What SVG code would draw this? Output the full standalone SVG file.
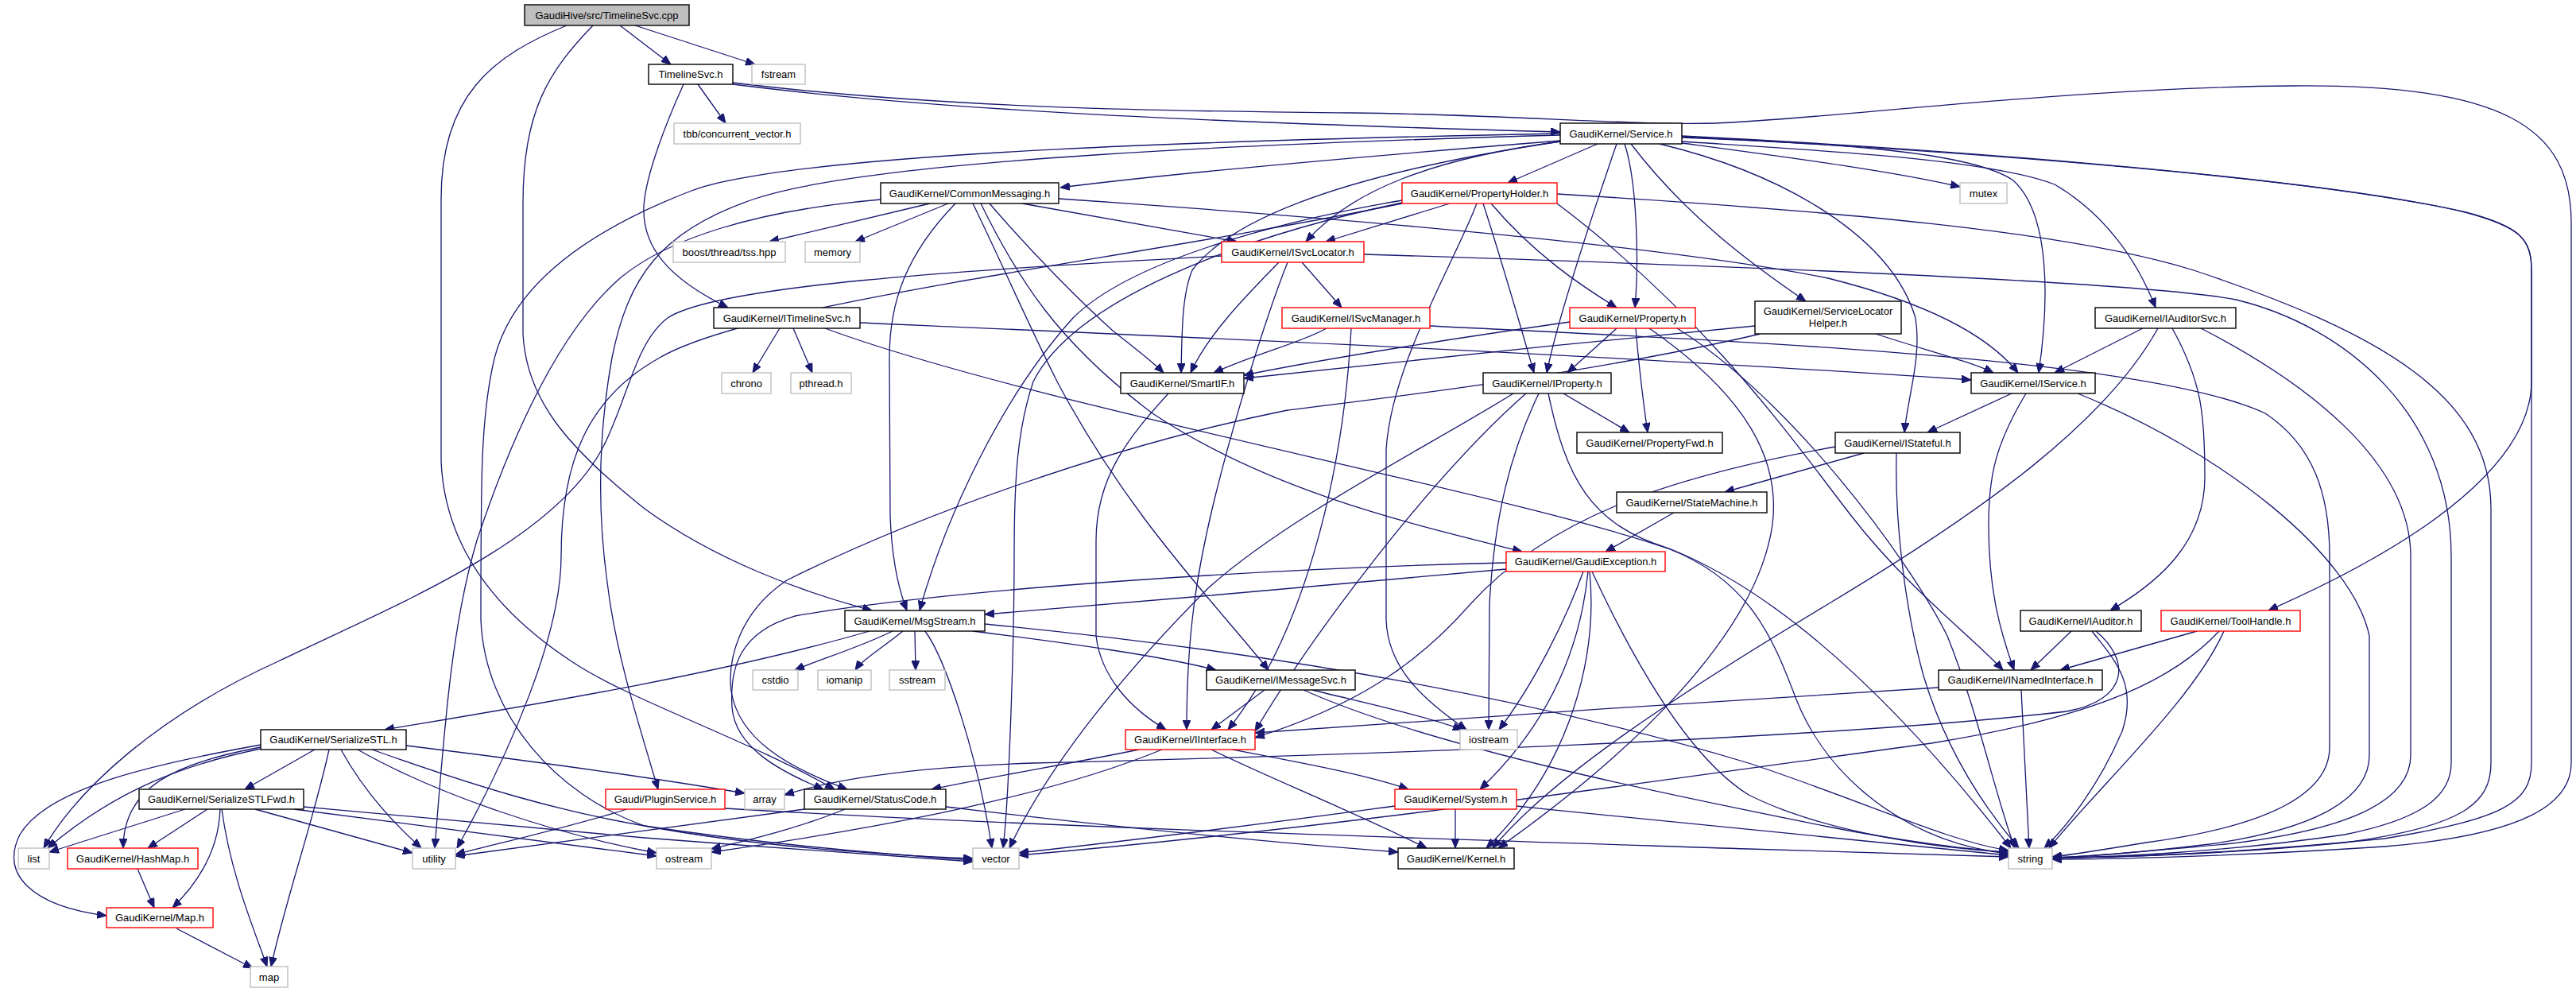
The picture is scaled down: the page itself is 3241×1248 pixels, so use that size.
<svg xmlns="http://www.w3.org/2000/svg" width="3241" height="1248" viewBox="0 0 3241 1248">
<style>
.nd rect{fill:#fff;stroke-width:1.4}
.ext rect{stroke:#bfbfbf}
.blk rect{stroke:#000}
.red rect{stroke:#ff0000}
.root rect{fill:#bfbfbf;stroke:#000}
.nd text{font-family:"Liberation Sans",Arial,sans-serif;font-size:13px;fill:#000;text-anchor:middle}
#edges path{fill:none;stroke:#191970;stroke-width:1.3;marker-end:url(#ah)}
</style>
<defs>
<marker id="ah" markerWidth="12" markerHeight="10" refX="12" refY="5" orient="auto" markerUnits="userSpaceOnUse">
<path d="M0,0 L12,5 L0,10 z" fill="#191970" stroke="#191970" stroke-width="1"/>
</marker>
</defs>
<rect width="3241" height="1248" fill="#fff"/>
<g id="edges">
<path d="M780,32 L844,81"/>
<path d="M799,32 L950,81"/>
<path d="M746,32 C690,90 658,140 658,255 L658,420 C662,500 710,560 811,640 C900,705 1010,745 1097,768"/>
<path d="M713,32 C620,70 555,120 555,250 L555,580 C560,700 640,780 719,832 C790,880 940,930 1050,993"/>
<path d="M922,106 C1150,135 1450,152 1963,166"/>
<path d="M878,106 L913,155"/>
<path d="M860,106 C840,150 812,220 810,260 C808,310 840,350 916,387"/>
<path d="M922,104 C1200,138 1500,140 1700,142 C1900,144 2050,158 2158,155 C2300,150 2600,110 2885,108 C3150,106 3235,160 3235,280 L3235,960 C3235,1010 3180,1050 3000,1065 C2800,1078 2650,1081 2582,1081"/>
<path d="M981,413 L947,469"/>
<path d="M998,413 L1022,469"/>
<path d="M1082,406 C1400,420 2000,445 2480,478"/>
<path d="M1038,413 C1300,510 1900,620 2101,691 C2200,730 2230,800 2260,880 C2300,980 2400,1060 2527,1074"/>
<path d="M1963,177 C1800,190 1500,215 1334,236"/>
<path d="M2010,181 L1897,230"/>
<path d="M2116,180 C2250,198 2380,215 2466,235"/>
<path d="M1963,178 C1800,200 1700,240 1643,304"/>
<path d="M2044,181 C2060,230 2062,330 2057,387"/>
<path d="M2034,181 C2000,280 1960,400 1946,469"/>
<path d="M2052,181 C2120,270 2200,330 2272,379"/>
<path d="M2116,178 C2300,190 2500,200 2585,232 C2650,270 2690,330 2712,387"/>
<path d="M2116,173 C2300,180 2480,190 2533,227 C2580,270 2578,380 2565,469"/>
<path d="M2088,181 C2250,220 2380,300 2410,400 C2418,450 2400,500 2396,544"/>
<path d="M1963,178 C1750,210 1560,260 1500,340 C1487,370 1487,420 1486,469"/>
<path d="M2116,171 C2400,185 2900,220 3102,267 C3170,285 3185,300 3185,340 L3185,480 C3185,560 3100,660 2854,768"/>
<path d="M1963,170 C1600,180 1100,200 950,250 C830,290 790,350 770,450 C752,550 752,650 765,740 C775,820 800,900 828,993"/>
<path d="M2116,172 C2400,186 2900,220 3102,267 C3170,285 3185,300 3185,340 L3185,960 C3185,1010 3150,1030 3000,1055 C2800,1075 2650,1079 2582,1079"/>
<path d="M1963,168 C1600,175 1000,190 870,240 C740,290 640,360 620,460 C605,530 605,600 605,780 C610,900 700,1000 811,1039 C950,1065 1100,1075 1224,1080"/>
<path d="M1170,256 L968,304"/>
<path d="M1193,256 L1076,304"/>
<path d="M1202,256 C1140,320 1119,380 1119,450 L1120,650 C1122,700 1130,740 1141,768"/>
<path d="M1224,256 C1260,330 1290,400 1330,480 C1420,650 1530,760 1596,843"/>
<path d="M1234,256 C1280,350 1330,430 1450,520 C1600,620 1780,660 1915,694"/>
<path d="M1245,256 C1300,320 1360,380 1400,416 C1430,440 1450,455 1464,469"/>
<path d="M1286,256 L1556,304"/>
<path d="M1332,250 C1700,275 2100,310 2300,350 C2420,380 2500,420 2539,469"/>
<path d="M1108,251 C950,265 840,300 780,350 C700,420 640,560 600,680 C570,780 560,900 547,1067"/>
<path d="M1824,256 L1668,304"/>
<path d="M1876,256 C1930,320 1990,360 2034,387"/>
<path d="M1866,256 C1890,330 1910,400 1930,469"/>
<path d="M1858,256 C1830,330 1750,460 1744,566 L1744,780 C1746,840 1790,880 1845,918"/>
<path d="M1959,244 C2300,265 2600,290 2760,340 C3000,420 3134,500 3134,640 L3134,960 C3134,1010 3100,1040 2950,1060 C2800,1075 2650,1079 2582,1079"/>
<path d="M1764,252 C1600,280 1420,330 1350,400 C1260,500 1190,650 1157,768"/>
<path d="M1764,255 C1550,300 1350,380 1300,480 C1280,540 1276,600 1276,700 C1276,800 1270,1000 1262,1067"/>
<path d="M1764,256 C1400,330 950,380 830,450 C740,500 706,580 706,700 C706,800 640,950 575,1067"/>
<path d="M1959,256 C2150,400 2260,560 2330,650 C2400,740 2480,800 2520,843"/>
<path d="M1638,330 L1688,387"/>
<path d="M1609,330 C1570,370 1520,420 1498,469"/>
<path d="M1620,330 C1600,380 1560,500 1530,620 C1505,720 1493,800 1493,918"/>
<path d="M1537,322 C1200,340 900,360 840,400 C800,430 790,500 760,560 C700,680 500,760 350,832 C200,900 100,990 55,1067"/>
<path d="M1716,320 C2200,335 2700,355 2813,377 C2950,410 3084,520 3084,700 L3084,960 C3084,1000 3050,1030 2950,1050 C2800,1072 2650,1079 2582,1079"/>
<path d="M1669,413 C1640,430 1580,445 1527,469"/>
<path d="M1700,413 C1690,600 1640,800 1545,918"/>
<path d="M1798,410 C2200,430 2700,450 2850,520 C2910,560 2931,620 2931,700 L2931,940 C2931,1000 2850,1040 2700,1060 C2640,1070 2600,1076 2582,1078"/>
<path d="M2360,420 C2420,440 2480,455 2508,469"/>
<path d="M2208,410 C2000,430 1750,455 1565,476"/>
<path d="M2215,420 C2000,470 1750,500 1620,516 C1400,560 1150,650 990,730 C930,770 915,830 920,870 C930,930 990,965 1066,993"/>
<path d="M2034,413 L1972,469"/>
<path d="M2058,413 C2062,460 2068,510 2073,544"/>
<path d="M2075,413 C2200,500 2240,580 2230,660 C2210,800 2050,950 1885,1067"/>
<path d="M2110,413 C2250,500 2400,700 2450,800 C2490,900 2510,1000 2535,1067"/>
<path d="M1975,405 C1800,430 1650,455 1565,472"/>
<path d="M2696,413 L2585,469"/>
<path d="M2715,413 C2650,530 2500,640 2300,760 C2100,880 1950,980 1878,1067"/>
<path d="M2733,413 C2770,480 2774,520 2774,600 C2774,680 2720,730 2655,768"/>
<path d="M2769,413 C2900,480 3033,580 3033,700 L3033,950 C3033,1010 2950,1045 2800,1062 C2680,1073 2620,1078 2582,1079"/>
<path d="M2531,495 L2425,544"/>
<path d="M2549,495 C2510,560 2502,600 2502,660 C2502,740 2515,790 2534,843"/>
<path d="M2614,495 C2800,570 2960,700 2981,800 L2981,950 C2981,1010 2900,1045 2780,1062 C2680,1074 2620,1078 2582,1079"/>
<path d="M2345,570 L2170,619"/>
<path d="M2386,570 C2384,650 2395,760 2420,850 C2450,950 2500,1020 2540,1067"/>
<path d="M2309,562 C2100,600 1950,650 1850,760 C1780,840 1700,890 1579,928"/>
<path d="M2106,645 L2020,694"/>
<path d="M1895,716 C1700,735 1450,755 1239,773"/>
<path d="M1895,708 C1600,715 1200,740 1000,775 C930,795 918,840 921,890 C925,940 980,970 1036,993"/>
<path d="M1992,719 C1970,780 1930,860 1886,918"/>
<path d="M1998,719 C1990,800 1960,900 1862,993"/>
<path d="M2000,719 C2010,820 1980,960 1870,1067"/>
<path d="M2003,719 C2050,820 2120,950 2200,1000 C2300,1050 2450,1068 2527,1072"/>
<path d="M1094,794 C900,850 650,890 484,918"/>
<path d="M1123,794 C1080,815 1030,830 1000,843"/>
<path d="M1136,794 C1110,815 1085,830 1076,843"/>
<path d="M1151,794 L1152,843"/>
<path d="M1164,794 C1190,830 1230,950 1248,1067"/>
<path d="M1224,794 C1350,810 1460,825 1530,843"/>
<path d="M1239,785 C1700,830 2000,900 2200,960 C2350,1010 2450,1058 2527,1070"/>
<path d="M1591,868 L1524,918"/>
<path d="M1651,868 C1720,885 1790,900 1840,918"/>
<path d="M1640,868 C1800,940 2100,1000 2300,1040 C2400,1060 2480,1068 2527,1073"/>
<path d="M2439,865 C2200,880 1800,905 1579,922"/>
<path d="M2543,868 L2553,1067"/>
<path d="M2606,794 L2555,843"/>
<path d="M2632,794 C2660,830 2690,860 2670,920 C2640,990 2600,1040 2572,1067"/>
<path d="M2637,794 C2680,830 2680,880 2600,895 C2300,930 1700,950 1300,960 C1150,965 1050,980 987,1000"/>
<path d="M2764,794 L2592,843"/>
<path d="M2798,794 C2760,880 2640,990 2578,1067"/>
<path d="M2792,794 C2740,850 2650,900 2430,935 C2100,980 1700,1040 1282,1076"/>
<path d="M1831,1018 L1831,1067"/>
<path d="M1908,1014 C2150,1040 2400,1065 2527,1076"/>
<path d="M1755,1014 C1600,1035 1400,1060 1282,1073"/>
<path d="M1433,943 C1350,960 1260,975 1172,993"/>
<path d="M1462,943 C1300,1010 1050,1050 895,1072"/>
<path d="M1524,943 C1600,980 1700,1020 1795,1067"/>
<path d="M1550,943 C1640,960 1720,975 1772,993"/>
<path d="M1063,1018 C1010,1040 950,1055 895,1068"/>
<path d="M1012,1018 C850,1040 700,1060 573,1077"/>
<path d="M1190,1015 C1400,1040 1600,1060 1759,1072"/>
<path d="M789,1018 C700,1045 630,1060 573,1075"/>
<path d="M912,1017 C1300,1040 1800,1055 2200,1068 C2350,1073 2450,1076 2527,1078"/>
<path d="M396,943 L308,993"/>
<path d="M414,943 C395,1030 360,1130 341,1216"/>
<path d="M429,943 C460,1000 500,1040 530,1067"/>
<path d="M511,938 C650,955 800,975 937,998"/>
<path d="M468,943 C600,990 700,1020 811,1039 C950,1060 1100,1074 1224,1082"/>
<path d="M450,943 C550,1000 700,1050 826,1073"/>
<path d="M328,942 C240,960 150,990 60,1067"/>
<path d="M328,940 C220,960 155,990 155,1067"/>
<path d="M328,937 C200,960 60,990 25,1050 C0,1100 40,1140 134,1152"/>
<path d="M233,1018 L62,1072"/>
<path d="M261,1018 L186,1067"/>
<path d="M277,1018 C275,1070 250,1110 217,1142"/>
<path d="M279,1018 C290,1100 320,1170 336,1216"/>
<path d="M321,1018 C400,1040 470,1060 519,1073"/>
<path d="M382,1015 C550,1030 700,1045 811,1054 C950,1065 1100,1075 1224,1084"/>
<path d="M370,1018 C550,1040 700,1060 826,1077"/>
<path d="M173,1093 L194,1142"/>
<path d="M222,1168 L318,1218"/>
<path d="M1470,495 C1420,550 1379,600 1379,680 L1379,800 C1385,850 1420,890 1467,918"/>
<path d="M1948,495 C1970,600 2000,660 2100,690 C2250,750 2400,900 2530,1067"/>
<path d="M1904,495 C1800,560 1620,650 1520,740 C1420,840 1320,960 1270,1067"/>
<path d="M1936,495 C1900,570 1880,650 1874,760 L1873,918"/>
<path d="M1967,495 L2050,544"/>
<path d="M1920,495 C1800,600 1650,800 1579,920"/>
</g>
<g id="n_cpp" class="nd root"><rect x="660" y="6" width="207" height="26"/><text x="763.5" y="23.5">GaudiHive/src/TimelineSvc.cpp</text></g>
<g id="n_tsh" class="nd blk"><rect x="816" y="81" width="106" height="25"/><text x="869" y="98">TimelineSvc.h</text></g>
<g id="n_fstream" class="nd ext"><rect x="946" y="81" width="67" height="25"/><text x="979.5" y="98">fstream</text></g>
<g id="n_tbb" class="nd ext"><rect x="848" y="155" width="159" height="26"/><text x="927.5" y="172.5">tbb/concurrent_vector.h</text></g>
<g id="n_service" class="nd blk"><rect x="1963" y="155" width="153" height="26"/><text x="2039.5" y="172.5">GaudiKernel/Service.h</text></g>
<g id="n_cm" class="nd blk"><rect x="1108" y="230" width="224" height="26"/><text x="1220" y="247.5">GaudiKernel/CommonMessaging.h</text></g>
<g id="n_ph" class="nd red"><rect x="1764" y="230" width="195" height="26"/><text x="1861.5" y="247.5">GaudiKernel/PropertyHolder.h</text></g>
<g id="n_mutex" class="nd ext"><rect x="2466" y="230" width="59" height="26"/><text x="2495.5" y="247.5">mutex</text></g>
<g id="n_boost" class="nd ext"><rect x="847" y="304" width="141" height="26"/><text x="917.5" y="321.5">boost/thread/tss.hpp</text></g>
<g id="n_memory" class="nd ext"><rect x="1013" y="304" width="69" height="26"/><text x="1047.5" y="321.5">memory</text></g>
<g id="n_isvclocator" class="nd red"><rect x="1537" y="304" width="179" height="26"/><text x="1626.5" y="321.5">GaudiKernel/ISvcLocator.h</text></g>
<g id="n_isvcmanager" class="nd red"><rect x="1613" y="387" width="186" height="26"/><text x="1706" y="404.5">GaudiKernel/ISvcManager.h</text></g>
<g id="n_property" class="nd red"><rect x="1975" y="387" width="158" height="26"/><text x="2054" y="404.5">GaudiKernel/Property.h</text></g>
<g id="n_slh" class="nd blk"><rect x="2208" y="379" width="184" height="41"/><text x="2300" y="396">GaudiKernel/ServiceLocator</text><text x="2300" y="411">Helper.h</text></g>
<g id="n_iauditorsvc" class="nd blk"><rect x="2636" y="387" width="177" height="26"/><text x="2724.5" y="404.5">GaudiKernel/IAuditorSvc.h</text></g>
<g id="n_itimelinesvc" class="nd blk"><rect x="898" y="387" width="184" height="26"/><text x="990" y="404.5">GaudiKernel/ITimelineSvc.h</text></g>
<g id="n_chrono" class="nd ext"><rect x="908" y="469" width="62" height="26"/><text x="939" y="486.5">chrono</text></g>
<g id="n_pthread" class="nd ext"><rect x="995" y="469" width="76" height="26"/><text x="1033" y="486.5">pthread.h</text></g>
<g id="n_smartif" class="nd blk"><rect x="1410" y="469" width="155" height="26"/><text x="1487.5" y="486.5">GaudiKernel/SmartIF.h</text></g>
<g id="n_iproperty" class="nd blk"><rect x="1866" y="469" width="161" height="26"/><text x="1946.5" y="486.5">GaudiKernel/IProperty.h</text></g>
<g id="n_iservice" class="nd blk"><rect x="2480" y="469" width="156" height="26"/><text x="2558" y="486.5">GaudiKernel/IService.h</text></g>
<g id="n_propertyfwd" class="nd blk"><rect x="1984" y="544" width="183" height="26"/><text x="2075.5" y="561.5">GaudiKernel/PropertyFwd.h</text></g>
<g id="n_istateful" class="nd blk"><rect x="2309" y="544" width="157" height="26"/><text x="2387.5" y="561.5">GaudiKernel/IStateful.h</text></g>
<g id="n_statemachine" class="nd blk"><rect x="2034" y="619" width="189" height="26"/><text x="2128.5" y="636.5">GaudiKernel/StateMachine.h</text></g>
<g id="n_gaudiexception" class="nd red"><rect x="1895" y="694" width="200" height="25"/><text x="1995" y="711">GaudiKernel/GaudiException.h</text></g>
<g id="n_msgstream" class="nd blk"><rect x="1063" y="768" width="176" height="26"/><text x="1151" y="785.5">GaudiKernel/MsgStream.h</text></g>
<g id="n_iauditor" class="nd blk"><rect x="2542" y="768" width="152" height="26"/><text x="2618" y="785.5">GaudiKernel/IAuditor.h</text></g>
<g id="n_toolhandle" class="nd red"><rect x="2719" y="768" width="175" height="26"/><text x="2806.5" y="785.5">GaudiKernel/ToolHandle.h</text></g>
<g id="n_inamedinterface" class="nd blk"><rect x="2439" y="843" width="206" height="25"/><text x="2542" y="860">GaudiKernel/INamedInterface.h</text></g>
<g id="n_cstdio" class="nd ext"><rect x="947" y="843" width="57" height="25"/><text x="975.5" y="860">cstdio</text></g>
<g id="n_iomanip" class="nd ext"><rect x="1029" y="843" width="67" height="25"/><text x="1062.5" y="860">iomanip</text></g>
<g id="n_sstream" class="nd ext"><rect x="1119" y="843" width="70" height="25"/><text x="1154" y="860">sstream</text></g>
<g id="n_imessagesvc" class="nd blk"><rect x="1518" y="843" width="187" height="25"/><text x="1611.5" y="860">GaudiKernel/IMessageSvc.h</text></g>
<g id="n_serializestl" class="nd blk"><rect x="328" y="918" width="183" height="25"/><text x="419.5" y="935">GaudiKernel/SerializeSTL.h</text></g>
<g id="n_iinterface" class="nd red"><rect x="1416" y="918" width="163" height="25"/><text x="1497.5" y="935">GaudiKernel/IInterface.h</text></g>
<g id="n_iostream" class="nd ext"><rect x="1837" y="918" width="72" height="25"/><text x="1873" y="935">iostream</text></g>
<g id="n_serializestlfwd" class="nd blk"><rect x="175" y="993" width="207" height="25"/><text x="278.5" y="1010">GaudiKernel/SerializeSTLFwd.h</text></g>
<g id="n_pluginservice" class="nd red"><rect x="762" y="993" width="150" height="25"/><text x="837" y="1010">Gaudi/PluginService.h</text></g>
<g id="n_array" class="nd ext"><rect x="937" y="993" width="50" height="25"/><text x="962" y="1010">array</text></g>
<g id="n_statuscode" class="nd blk"><rect x="1012" y="993" width="178" height="25"/><text x="1101" y="1010">GaudiKernel/StatusCode.h</text></g>
<g id="n_system" class="nd red"><rect x="1755" y="993" width="153" height="25"/><text x="1831.5" y="1010">GaudiKernel/System.h</text></g>
<g id="n_list" class="nd ext"><rect x="23" y="1067" width="39" height="26"/><text x="42.5" y="1084.5">list</text></g>
<g id="n_hashmap" class="nd red"><rect x="85" y="1067" width="164" height="26"/><text x="167" y="1084.5">GaudiKernel/HashMap.h</text></g>
<g id="n_utility" class="nd ext"><rect x="519" y="1067" width="54" height="26"/><text x="546" y="1084.5">utility</text></g>
<g id="n_ostream" class="nd ext"><rect x="826" y="1067" width="69" height="26"/><text x="860.5" y="1084.5">ostream</text></g>
<g id="n_vector" class="nd ext"><rect x="1224" y="1067" width="58" height="26"/><text x="1253" y="1084.5">vector</text></g>
<g id="n_kernel" class="nd blk"><rect x="1759" y="1067" width="146" height="26"/><text x="1832" y="1084.5">GaudiKernel/Kernel.h</text></g>
<g id="n_string" class="nd ext"><rect x="2527" y="1067" width="55" height="26"/><text x="2554.5" y="1084.5">string</text></g>
<g id="n_map_h" class="nd red"><rect x="134" y="1142" width="134" height="25"/><text x="201" y="1159">GaudiKernel/Map.h</text></g>
<g id="n_map" class="nd ext"><rect x="315" y="1216" width="47" height="26"/><text x="338.5" y="1233.5">map</text></g>
</svg>
